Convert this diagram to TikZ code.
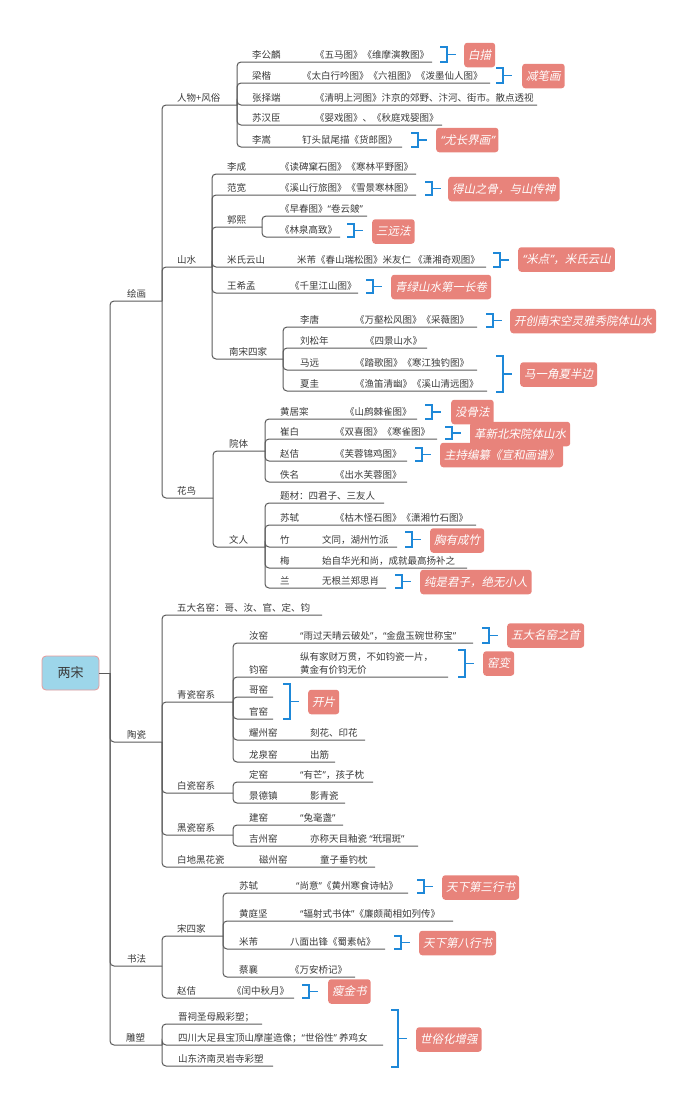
\documentclass[tikz,border=0pt]{standalone}
\usepackage{fontspec}
\setmainfont{Noto Sans CJK SC}
\newfontfamily\lblfont[FakeSlant=0.2]{Noto Sans CJK SC}
\newfontfamily\qfont{Noto Sans}
\newfontfamily\qfontsl[FakeSlant=0.2]{Noto Sans}
\newcommand{\lqq}{{\qfont“}}
\newcommand{\rqq}{{\qfont”}}
\newcommand{\lqs}{{\qfontsl“}}
\newcommand{\rqs}{{\qfontsl”}}
\definecolor{linegray}{HTML}{5A5A5A}
\definecolor{txtgray}{HTML}{3A3A3A}
\definecolor{brkblue}{HTML}{1E88D8}
\definecolor{lblred}{HTML}{E8837B}
\definecolor{rootblue}{HTML}{9DD6EA}
\definecolor{rootborder}{HTML}{E89A9A}
\tikzset{
  conn/.style={draw=linegray, line width=1pt, rounded corners=4pt},
  txt/.style={anchor=base west, inner sep=0pt, text=txtgray, font=\fontsize{9.5}{11}\selectfont},
  brk/.style={draw=brkblue, line width=1.6pt},
  lbl/.style={anchor=west, rectangle, rounded corners=3pt, fill=lblred, text=white, inner xsep=4pt, inner ysep=0pt, minimum height=24.5pt, font=\lblfont\fontsize{11.5}{12}\selectfont},
  rootbox/.style={rectangle, rounded corners=4pt, fill=rootblue, draw=rootborder, line width=0.8pt, minimum width=57pt, minimum height=34pt, text=txtgray, font=\fontsize{13}{14}\selectfont}
}
% #1 id, #2 spine x, #3 parent y, #4 child y, #5 end x
\newcommand{\mmBranch}[5]{\coordinate (#1s) at (#2,#3); \coordinate (#1e) at (#5,#4); \draw[conn] (#1s) |- (#1e);}
% #1 id, #2 x, #3 line y, #4 text
\newcommand{\mmText}[4]{\node[txt] (#1) at (#2,#3-3.8) {#4};}
% #1 id, #2 x, #3 y1, #4 y2
\newcommand{\mmBrk}[4]{\coordinate (#1) at (#2,{(#3+#4)/2}); \draw[brk] (#2-7,#3) -- (#2,#3) -- (#2,#4) -- (#2-7,#4); \draw[brk] (#1) -- ++(9,0) coordinate (#1t);}
% #1 id, #2 x1, #3 y1, #4 y2, #5 text
\newcommand{\mmLab}[5]{\node[lbl] (#1) at (#2,{(#3+#4)/2}) {#5};}
\begin{document}
\begin{tikzpicture}[x=1pt,y=-1pt]
\useasboundingbox (0,0) rectangle (700,1109);
% root
\node[rootbox] (root) at (70.5,673) {两宋};
\coordinate (rootj) at (110,673);
\draw[conn] (root.east) -- (rootj);
% level 1
\mmBranch{hh}{110}{673}{301}{162} \mmText{hht}{127}{301}{绘画}
\mmBranch{tc}{110}{673}{742}{162} \mmText{tct}{127}{742}{陶瓷}
\mmBranch{sf}{110}{673}{966}{162} \mmText{sft}{127}{966}{书法}
\mmBranch{ds}{110}{673}{1045}{162} \mmText{dst}{126}{1045}{雕塑}
% 绘画
\mmBranch{rw}{162}{301}{105}{237} \mmText{rwt}{177}{105}{人物+风俗}
\mmBranch{ss}{162}{301}{267}{212} \mmText{sst}{177}{267}{山水}
\mmBranch{hn}{162}{301}{498}{213} \mmText{hnt}{177}{498}{花鸟}
% 人物+风俗
\mmBranch{a1}{237}{105}{62}{432} \mmText{a1n}{252}{62}{李公麟} \mmText{a1w}{315}{62}{《五马图》《维摩演教图》}
\mmBranch{a2}{237}{105}{83}{490} \mmText{a2n}{252}{83}{梁楷} \mmText{a2w}{302}{83}{《太白行吟图》《六祖图》《泼墨仙人图》}
\mmBranch{a3}{237}{105}{105}{537} \mmText{a3n}{252}{105}{张择端} \mmText{a3w}{315}{105}{《清明上河图》汴京的郊野、汴河、街市。散点透视}
\mmBranch{a4}{237}{105}{125}{442} \mmText{a4n}{252}{125}{苏汉臣} \mmText{a4w}{315}{125}{《婴戏图》、《秋庭戏婴图》}
\mmBranch{a5}{237}{105}{147}{402} \mmText{a5n}{252}{147}{李嵩} \mmText{a5w}{302}{147}{钉头鼠尾描《货郎图》}
\mmBrk{k1}{447}{47}{62} \mmLab{l1}{464}{43}{67}{白描}
\mmBrk{k2}{503}{68}{83} \mmLab{l2}{522}{63}{89}{减笔画}
\mmBrk{k3}{418}{133}{147} \mmLab{l3}{436}{127}{153}{\lqs 尤长界画\rqs}
% 山水
\mmBranch{b1}{212}{267}{174}{416} \mmText{b1n}{227}{174}{李成} \mmText{b1w}{280}{174}{《读碑窠石图》《寒林平野图》}
\mmBranch{b2}{212}{267}{195}{416} \mmText{b2n}{227}{195}{范宽} \mmText{b2w}{280}{195}{《溪山行旅图》《雪景寒林图》}
\mmBrk{k4}{432}{182}{195} \mmLab{l4}{448}{176}{202}{得山之骨，与山传神}
\mmBranch{b3}{212}{267}{227}{262} \mmText{b3n}{227}{227}{郭熙}
\mmBranch{g1}{262}{227}{216}{367} \mmText{g1t}{280}{216}{《早春图》\lqq 卷云皴\rqq}
\mmBranch{g2}{262}{227}{237}{340} \mmText{g2t}{280}{237}{《林泉高致》}
\mmBrk{k5}{354}{224}{237} \mmLab{l5}{372}{219}{244}{三远法}
\mmBranch{b4}{212}{267}{267}{486} \mmText{b4n}{227}{267}{米氏云山} \mmText{b4w}{297}{267}{米芾《春山瑞松图》米友仁 《潇湘奇观图》}
\mmBrk{k6}{500}{253}{267} \mmLab{l6}{518}{247}{272}{\lqs 米点\rqs，米氏云山}
\mmBranch{b5}{212}{267}{293}{358} \mmText{b5n}{227}{293}{王希孟} \mmText{b5w}{290}{293}{《千里江山图》}
\mmBrk{k7}{373}{280}{293} \mmLab{l7}{391}{275}{299}{青绿山水第一长卷}
\mmBranch{b6}{212}{267}{359}{283} \mmText{b6n}{229}{359}{南宋四家}
\mmBranch{n1}{283}{359}{327}{477} \mmText{n1n}{300}{327}{李唐} \mmText{n1w}{355}{327}{《万壑松风图》《采薇图》}
\mmBranch{n2}{283}{359}{348}{427} \mmText{n2n}{300}{348}{刘松年} \mmText{n2w}{365}{348}{《四景山水》}
\mmBranch{n3}{283}{359}{370}{477} \mmText{n3n}{300}{370}{马远} \mmText{n3w}{355}{370}{《踏歌图》《寒江独钓图》}
\mmBranch{n4}{283}{359}{391}{487} \mmText{n4n}{300}{391}{夏圭} \mmText{n4w}{355}{391}{《渔笛清幽》《溪山清远图》}
\mmBrk{k8}{493}{314}{327} \mmLab{l8}{510}{309}{333}{开创南宋空灵雅秀院体山水}
\mmBrk{k9}{503}{356}{392} \mmLab{l9}{520}{362}{387}{马一角夏半边}
% 花鸟
\mmBranch{c1}{213}{498}{451}{265} \mmText{c1n}{229}{451}{院体}
\mmBranch{y1}{265}{451}{419}{417} \mmText{y1n}{280}{419}{黄居寀} \mmText{y1w}{345}{419}{《山鹧棘雀图》}
\mmBranch{y2}{265}{451}{439}{437} \mmText{y2n}{280}{439}{崔白} \mmText{y2w}{335}{439}{《双喜图》《寒雀图》}
\mmBranch{y3}{265}{451}{461}{407} \mmText{y3n}{280}{461}{赵佶} \mmText{y3w}{335}{461}{《芙蓉锦鸡图》}
\mmBranch{y4}{265}{451}{482}{407} \mmText{y4n}{280}{482}{佚名} \mmText{y4w}{335}{482}{《出水芙蓉图》}
\mmBrk{k10}{432}{405}{419} \mmLab{l10}{451}{400}{424}{没骨法}
\mmBrk{k11}{452}{427}{439} \mmLab{l11}{470}{421}{447}{革新北宋院体山水}
\mmBrk{k12}{422}{448}{461} \mmLab{l12}{440}{443}{467}{主持编纂《宣和画谱》}
\mmBranch{c2}{213}{498}{547}{265} \mmText{c2n}{229}{547}{文人}
\mmBranch{w1}{265}{547}{503}{384} \mmText{w1t}{280}{503}{题材：四君子、三友人}
\mmBranch{w2}{265}{547}{525}{476} \mmText{w2n}{280}{525}{苏轼} \mmText{w2w}{335}{525}{《枯木怪石图》《潇湘竹石图》}
\mmBranch{w3}{265}{547}{547}{397} \mmText{w3n}{280}{547}{竹} \mmText{w3w}{322}{547}{文同，湖州竹派}
\mmBranch{w4}{265}{547}{568}{467} \mmText{w4n}{280}{568}{梅} \mmText{w4w}{322}{568}{始自华光和尚，成就最高扬补之}
\mmBranch{w5}{265}{547}{588}{386} \mmText{w5n}{280}{588}{兰} \mmText{w5w}{322}{588}{无根兰郑思肖}
\mmBrk{k13}{412}{532}{547} \mmLab{l13}{430}{528}{553}{胸有成竹}
\mmBrk{k14}{402}{575}{588} \mmLab{l14}{420}{569}{595}{纯是君子，绝无小人}
% 陶瓷
\mmBranch{d1}{162}{742}{615}{322} \mmText{d1t}{177}{615}{五大名窑：哥、汝、官、定、钧}
\mmBranch{d2}{162}{742}{702}{233} \mmText{d2t}{177}{702}{青瓷窑系}
\mmBranch{q1}{233}{702}{643}{473} \mmText{q1n}{249}{643}{汝窑} \mmText{q1w}{300}{643}{\lqq 雨过天晴云破处\rqq，\lqq 金盘玉碗世称宝\rqq}
\mmBranch{q2}{233}{702}{677}{448} \mmText{q2n}{249}{677}{钧窑}
\node[txt] (q2w1) at (300,660) {纵有家财万贯，不如钧瓷一片，};
\node[txt] (q2w2) at (300,673) {黄金有价钧无价};
\mmBranch{q3}{233}{702}{697}{273} \mmText{q3n}{249}{697}{哥窑}
\mmBranch{q4}{233}{702}{719}{273} \mmText{q4n}{249}{719}{官窑}
\mmBranch{q5}{233}{702}{740}{365} \mmText{q5n}{249}{740}{耀州窑} \mmText{q5w}{310}{740}{刻花、印花}
\mmBranch{q6}{233}{702}{762}{335} \mmText{q6n}{249}{762}{龙泉窑} \mmText{q6w}{310}{762}{出筋}
\mmBrk{k15}{489}{628}{643} \mmLab{l15}{507}{623}{648}{五大名窑之首}
\mmBrk{k16}{465}{650}{677} \mmLab{l16}{483}{651}{676}{窑变}
\mmBrk{k17}{290}{684}{719} \mmLab{l17}{308}{690}{714}{开片}
\mmBranch{d3}{162}{742}{793}{233} \mmText{d3t}{177}{793}{白瓷窑系}
\mmBranch{p1}{233}{793}{782}{373} \mmText{p1n}{249}{782}{定窑} \mmText{p1w}{300}{782}{\lqq 有芒\rqq，孩子枕}
\mmBranch{p2}{233}{793}{803}{345} \mmText{p2n}{249}{803}{景德镇} \mmText{p2w}{310}{803}{影青瓷}
\mmBranch{d4}{162}{742}{835}{233} \mmText{d4t}{177}{835}{黑瓷窑系}
\mmBranch{h1}{233}{835}{825}{343} \mmText{h1n}{249}{825}{建窑} \mmText{h1w}{300}{825}{\lqq 兔毫盏\rqq}
\mmBranch{h2}{233}{835}{846}{418} \mmText{h2n}{249}{846}{吉州窑} \mmText{h2w}{310}{846}{亦称天目釉瓷 \lqq 玳瑁斑\rqq}
\mmBranch{d5}{162}{742}{867}{375} \mmText{d5t}{177}{867}{白地黑花瓷} \mmText{d5m}{259}{867}{磁州窑} \mmText{d5w}{320}{867}{童子垂钓枕}
% 书法
\mmBranch{e1}{162}{966}{936}{223} \mmText{e1t}{177}{936}{宋四家}
\mmBranch{s1}{223}{936}{893}{408} \mmText{s1n}{239}{893}{苏轼} \mmText{s1w}{296}{893}{\lqq 尚意\rqq《黄州寒食诗帖》}
\mmBranch{s2}{223}{936}{921}{453} \mmText{s2n}{239}{921}{黄庭坚} \mmText{s2w}{300}{921}{\lqq 辐射式书体\rqq《廉颇蔺相如列传》}
\mmBranch{s3}{223}{936}{949}{385} \mmText{s3n}{239}{949}{米芾} \mmText{s3w}{290}{949}{八面出锋《蜀素帖》}
\mmBranch{s4}{223}{936}{977}{355} \mmText{s4n}{239}{977}{蔡襄} \mmText{s4w}{290}{977}{《万安桥记》}
\mmBrk{k18}{424}{880}{893} \mmLab{l18}{442}{875}{900}{天下第三行书}
\mmBrk{k19}{401}{936}{949} \mmLab{l19}{419}{931}{955}{天下第八行书}
\mmBranch{e2}{162}{966}{998}{294} \mmText{e2n}{177}{998}{赵佶} \mmText{e2w}{232}{998}{《闰中秋月》}
\mmBrk{k20}{309}{985}{998} \mmLab{l20}{328}{979}{1004}{瘦金书}
% 雕塑
\mmBranch{f1}{162}{1045}{1024}{262} \mmText{f1t}{178}{1024}{晋祠圣母殿彩塑；}
\mmBranch{f2}{162}{1045}{1045}{383} \mmText{f2t}{178}{1045}{四川大足县宝顶山摩崖造像；\lqq 世俗性\rqq{} 养鸡女}
\mmBranch{f3}{162}{1045}{1066}{273} \mmText{f3t}{178}{1066}{山东济南灵岩寺彩塑}
\mmBrk{k21}{398}{1010}{1067} \mmLab{l21}{416}{1027}{1052}{世俗化增强}
\end{tikzpicture}
\end{document}
